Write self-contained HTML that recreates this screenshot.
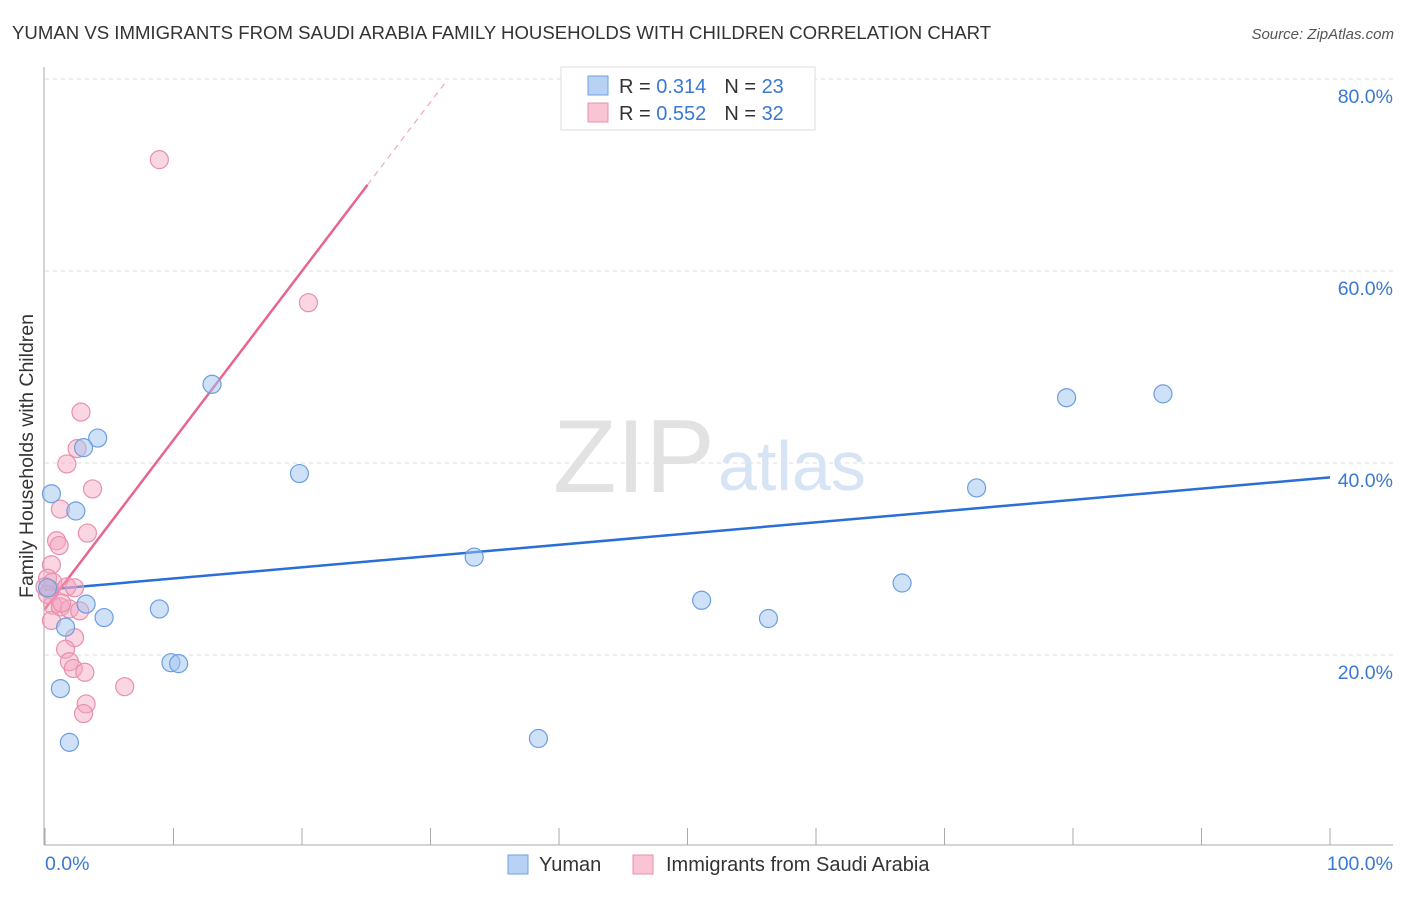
<!DOCTYPE html>
<html><head><meta charset="utf-8"><style>
body{margin:0;background:#fff;font-family:"Liberation Sans",sans-serif;}
svg text{font-family:"Liberation Sans",sans-serif;}
</style></head><body>
<svg width="1406" height="892">
<text x="12" y="39" font-size="18.6" fill="#333">YUMAN VS IMMIGRANTS FROM SAUDI ARABIA FAMILY HOUSEHOLDS WITH CHILDREN CORRELATION CHART</text>
<text x="1394" y="39" font-size="15" fill="#555" font-style="italic" text-anchor="end">Source: ZipAtlas.com</text>
<g id="grid"></g>
<text x="553" y="492" font-size="104" fill="#e2e2e2" font-family="Liberation Serif,serif">ZIP</text>
<text x="718" y="490" font-size="70" fill="#d6e4f5">atlas</text>
<line x1="44" y1="67" x2="44" y2="845" stroke="#aaa"/>
<line x1="44" y1="845" x2="1393" y2="845" stroke="#aaa"/>
<text x="33" y="456" font-size="19.5" fill="#333" text-anchor="middle" transform="rotate(-90 33 456)">Family Households with Children</text>
<text x="45" y="870" font-size="19.5" fill="#3a78d4">0.0%</text>
<text x="1393" y="870" font-size="19.5" fill="#3a78d4" text-anchor="end">100.0%</text>
<g id="lines"></g>
<g id="pts"></g>
<g>
<rect x="561" y="67" width="254" height="63" fill="#fff" stroke="#ddd"/>
<rect x="588" y="76" width="20" height="19" fill="#b8d2f5" stroke="#6fa0e0"/>
<rect x="588" y="103" width="20" height="19" fill="#f9c4d4" stroke="#e890ab"/>
<text x="619" y="93" font-size="20" fill="#333">R = <tspan fill="#3a78d4">0.314</tspan><tspan dx="18">N = </tspan><tspan fill="#3a78d4">23</tspan></text>
<text x="619" y="120" font-size="20" fill="#333">R = <tspan fill="#3a78d4">0.552</tspan><tspan dx="18">N = </tspan><tspan fill="#3a78d4">32</tspan></text>
</g>
<g><rect x="508" y="855" width="20" height="19" fill="#b8d2f5" stroke="#6fa0e0"/><text x="539" y="871" font-size="20" fill="#333">Yuman</text></g>
<g><rect x="633" y="855" width="20" height="19" fill="#f9c4d4" stroke="#e890ab"/><text x="666" y="871" font-size="20" fill="#333">Immigrants from Saudi Arabia</text></g>
</svg>
<script>
const yTicks=[20,40,60,80];
const yTickLabels=["20.0%","40.0%","60.0%","80.0%"];
const xTicks=[0,10,20,30,40,50,60,70,80,90,100];
const blueX=[0.5,2.4,4.1,3.0,13.0,19.8,3.2,4.6,1.6,0.2,8.9,9.8,10.4,1.2,1.9,33.4,38.4,51.1,56.3,66.7,72.5,79.5,87.0];
const blueY=[36.8,35.0,42.6,41.6,48.2,38.9,25.3,23.9,22.9,27.0,24.8,19.2,19.1,16.5,10.9,30.2,11.3,25.7,23.8,27.5,37.4,46.8,47.2];
const pinkX=[8.9,20.5,2.8,2.5,1.7,3.7,1.2,3.3,0.9,1.1,0.5,0.2,0.6,0.4,1.7,2.3,0.6,1.2,1.9,2.7,0.5,2.3,1.6,1.9,2.2,3.1,6.2,3.2,3.0,0.0,0.2,1.3];
const pinkY=[71.6,56.7,45.3,41.5,39.9,37.3,35.2,32.7,31.9,31.4,29.4,28.0,27.6,26.8,27.1,27.0,25.2,25.0,24.8,24.6,23.6,21.8,20.6,19.3,18.6,18.2,16.7,14.9,13.9,27.1,26.3,25.4];
const blueTrend=[26.8,38.5];
const pinkTrend=[24.8,1.76];
const NS="http://www.w3.org/2000/svg";
const sx=v=>45+v*12.85, sy=v=>847-v*9.6;
function mk(t,a,p){const e=document.createElementNS(NS,t);for(const k in a)e.setAttribute(k,a[k]);p.appendChild(e);return e;}
const g=document.getElementById('grid');
yTicks.forEach((t,i)=>{
 const l=mk('line',{x1:45,x2:1393,y1:sy(t),y2:sy(t),stroke:'#ddd','stroke-dasharray':'4,4'},g);
 
 
 const tx=mk('text',{x:1393,y:sy(t)+24,'font-size':19.5,fill:'#3a78d4','text-anchor':'end'},g);
 tx.textContent=yTickLabels[i];
 
 
});
xTicks.forEach(t=>{
 const l=mk('line',{x1:sx(t),x2:sx(t),y1:828,y2:845,stroke:'#aaa'},g);
 
 
});
const L=document.getElementById('lines');
let b=mk('line',{x1:sx(0),y1:sy(blueTrend[0]),x2:sx(100),y2:sy(blueTrend[1]),stroke:'#2a6fd6','stroke-width':2.5},L);


let p=mk('line',{x1:sx(0),y1:sy(pinkTrend[0]),x2:sx(25.1),y2:sy(pinkTrend[0]+pinkTrend[1]*25.1),stroke:'#e8658d','stroke-width':2.5},L);


let pd=mk('line',{x1:sx(25.1),y1:sy(pinkTrend[0]+pinkTrend[1]*25.1),x2:sx(31.2),y2:sy(pinkTrend[0]+pinkTrend[1]*31.2),stroke:'#f0a8bd','stroke-width':1.2,'stroke-dasharray':'6,5'},L);


const P=document.getElementById('pts');
pinkX.forEach((x,i)=>{
 const c=mk('circle',{cx:sx(x),cy:sy(pinkY[i]),r:9,fill:'rgba(244,165,192,0.45)',stroke:'#e890ab','stroke-width':1.2},P);
 
 
});
blueX.forEach((x,i)=>{
 const c=mk('circle',{cx:sx(x),cy:sy(blueY[i]),r:9,fill:'rgba(160,195,240,0.5)',stroke:'#6c9ee0','stroke-width':1.2},P);
 
 
});
</script>
</body></html>
